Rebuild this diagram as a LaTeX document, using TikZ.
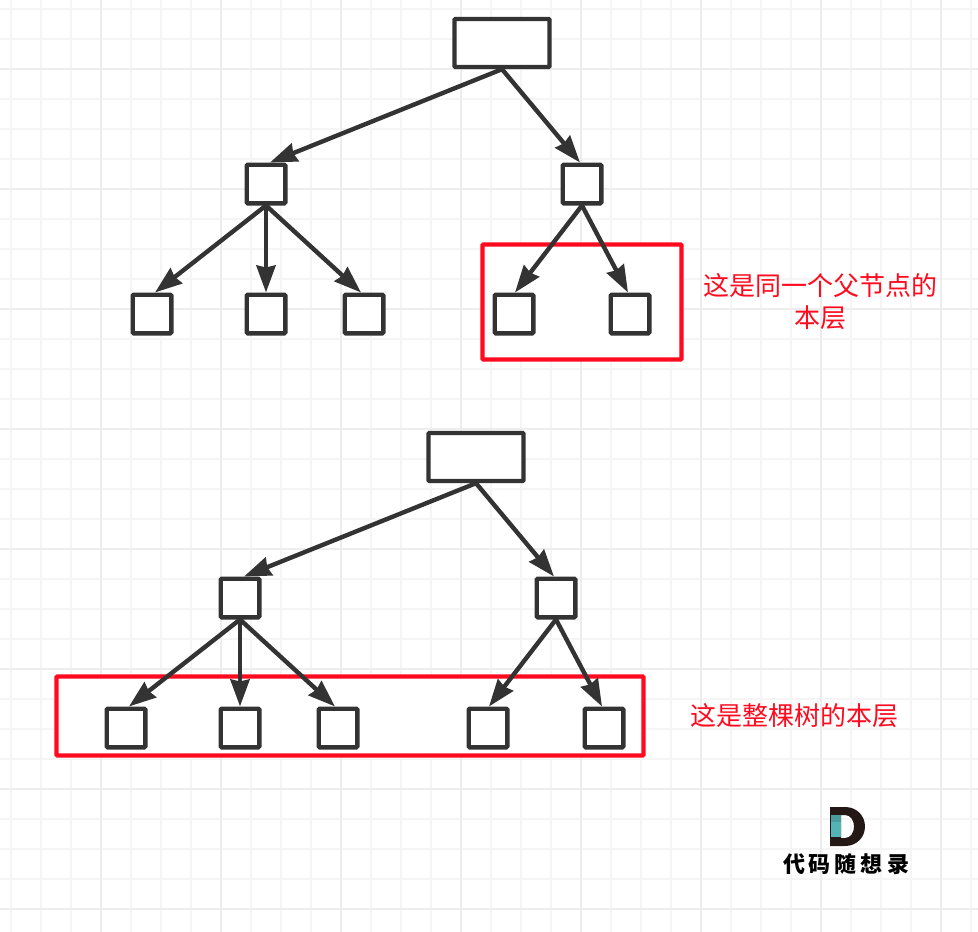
\documentclass[tikz,border=0pt]{standalone}
\usepackage{fontspec}
\newfontfamily\cjk{Noto Sans CJK SC}
\usetikzlibrary{arrows.meta}
\definecolor{ink}{HTML}{333333}
\definecolor{redbox}{HTML}{FF0A1E}
\definecolor{gridmajor}{HTML}{EDEDED}
\definecolor{gridminor}{HTML}{F5F5F5}
\definecolor{logoteal}{HTML}{52B4B4}
\definecolor{logoteald}{HTML}{4A9C9C}
\definecolor{logodark}{HTML}{231815}
\tikzset{
  rootbox/.style={draw=ink,line width=4.4pt,fill=white,rounded corners=1pt,minimum width=95pt,minimum height=48pt,inner sep=0pt},
  leafbox/.style={draw=ink,line width=4.4pt,fill=white,rounded corners=1pt,minimum width=38.6pt,minimum height=38.6pt,inner sep=0pt},
  redframe/.style={draw=redbox,line width=4.4pt,fill=white,rounded corners=1pt,inner sep=0pt},
  conn/.style={draw=ink,line width=4.4pt,-{Stealth[length=27pt,width=19pt,inset=2pt]}},
  note/.style={text=redbox,font=\cjk\fontsize{26}{26}\selectfont,inner sep=0pt,anchor=center},
  logotext/.style={text=black,font=\cjk\bfseries\fontsize{22}{22}\selectfont,inner sep=0pt,anchor=center}
}
\begin{document}
\begin{tikzpicture}[x=1pt,y=-1pt]
\useasboundingbox (0,0) rectangle (978,932);
\fill[white] (0,0) rectangle (978,932);
% grid
\foreach \gx in {11,41,...,971} \draw[gridminor,line width=2.2pt] (\gx,0) -- (\gx,932);
\foreach \gy in {9,39,...,929} \draw[gridminor,line width=2.2pt] (0,\gy) -- (978,\gy);
\foreach \gx in {101,221,...,941} \draw[gridmajor,line width=2.6pt] (\gx,0) -- (\gx,932);
\foreach \gy in {69,189,...,909} \draw[gridmajor,line width=2.6pt] (0,\gy) -- (978,\gy);
% red frames
\node[redframe,minimum width=199pt,minimum height=115pt] (frameA) at (582,302) {};
\node[redframe,minimum width=587pt,minimum height=79pt] (frameB) at (350,716) {};
% first tree
\node[rootbox] (a0) at (502,43) {};
\node[leafbox] (a1) at (266,184) {};
\node[leafbox] (a2) at (582,184) {};
\node[leafbox] (a3) at (152,314) {};
\node[leafbox] (a4) at (266,314) {};
\node[leafbox] (a5) at (364,314) {};
\node[leafbox] (a6) at (514,314) {};
\node[leafbox] (a7) at (630,314) {};
\draw[conn] (a0.south) -- ([xshift=4pt]a1.north);
\draw[conn] (a0.south) -- ([xshift=-2pt]a2.north);
\draw[conn] (a1.south) -- ([xshift=3pt]a3.north);
\draw[conn] (a1.south) -- (a4.north);
\draw[conn] (a1.south) -- ([xshift=-3pt]a5.north);
\draw[conn] (a2.south) -- ([xshift=1pt]a6.north);
\draw[conn] (a2.south) -- ([xshift=-2pt]a7.north);
% second tree
\node[rootbox] (b0) at (476,457) {};
\node[leafbox] (b1) at (240,598) {};
\node[leafbox] (b2) at (556,598) {};
\node[leafbox] (b3) at (126,728) {};
\node[leafbox] (b4) at (240,728) {};
\node[leafbox] (b5) at (338,728) {};
\node[leafbox] (b6) at (488,728) {};
\node[leafbox] (b7) at (604,728) {};
\draw[conn] (b0.south) -- ([xshift=4pt]b1.north);
\draw[conn] (b0.south) -- ([xshift=-2pt]b2.north);
\draw[conn] (b1.south) -- ([xshift=3pt]b3.north);
\draw[conn] (b1.south) -- (b4.north);
\draw[conn] (b1.south) -- ([xshift=-3pt]b5.north);
\draw[conn] (b2.south) -- ([xshift=1pt]b6.north);
\draw[conn] (b2.south) -- ([xshift=-2pt]b7.north);
% labels
\node[note] (noteA1) at (820,286) {这是同一个父节点的};
\node[note] (noteA2) at (820,318) {本层};
\node[note] (noteB) at (794,716) {这是整棵树的本层};
% logo
\fill[logodark,even odd rule] (830,807) -- (845,807) .. controls (857,807) and (865,816) .. (865,826.5) .. controls (865,837) and (857,846) .. (845,846) -- (830,846) -- cycle
  (841,815) -- (841,838) -- (845,838) .. controls (851,838) and (854,832) .. (854,826.5) .. controls (854,821) and (851,815) .. (845,815) -- cycle;
\fill[logoteald] (831,815) rectangle (841,822);
\fill[logoteal] (831,822) rectangle (841,837);
\node[logotext] (logoText) at (846,864) {代\hspace{4pt}码\hspace{4pt}随\hspace{4pt}想\hspace{4pt}录};
\end{tikzpicture}
\end{document}
